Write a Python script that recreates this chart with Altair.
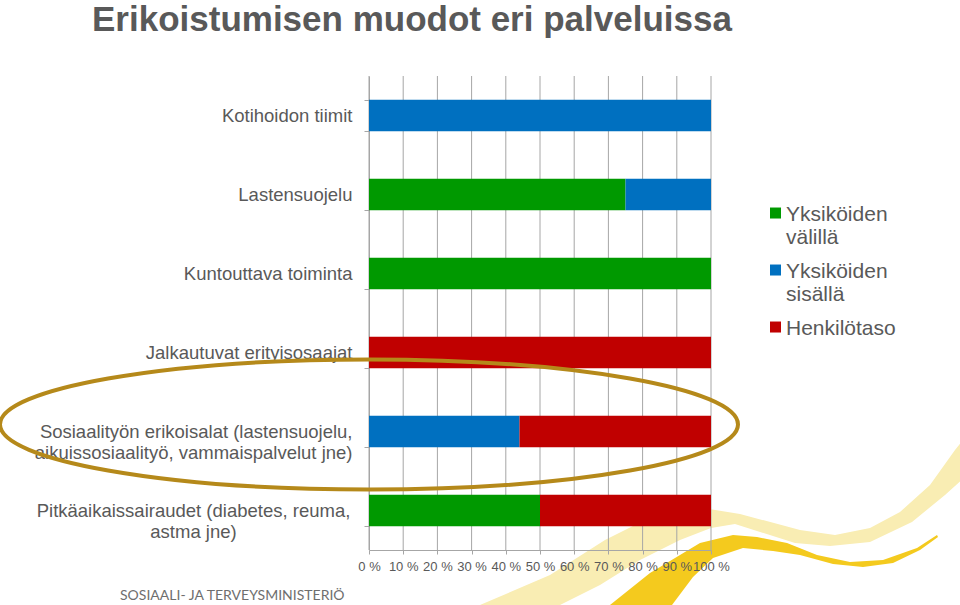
import altair as alt
import pandas as pd

# ---------------- data ----------------
categories = [
    "Kotihoidon tiimit",
    "Lastensuojelu",
    "Kuntouttava toiminta",
    "Jalkautuvat erityisosaajat",
    "Sosiaalityön erikoisalat (lastensuojelu,\naikuissosiaalityö, vammaispalvelut jne)",
    "Pitkäaikaissairaudet (diabetes, reuma,\nastma jne)",
]
series = ["Yksiköiden välillä", "Yksiköiden sisällä", "Henkilötaso"]
valilla = [0, 75, 100, 0, 0, 50]
sisalla = [100, 25, 0, 0, 44, 0]
henkilotaso = [0, 0, 0, 100, 56, 50]
x_ticks = [0, 10, 20, 30, 40, 50, 60, 70, 80, 90, 100]
colors = ["#009900", "#0070C0", "#C00000"]
title_text = "Erikoistumisen muodot eri palveluissa"
footer_text = "SOSIAALI- JA TERVEYSMINISTERIÖ"
highlight_category = categories[4]

rows = []
for s_idx, (name, vals) in enumerate(zip(series, [valilla, sisalla, henkilotaso])):
    for cat, v in zip(categories, vals):
        rows.append({"cat": cat, "series": name, "idx": s_idx, "value": v})
df = pd.DataFrame(rows)
ticks_df = pd.DataFrame({"value": x_ticks})

FONT = "Liberation Sans"
TXT = "#595959"
GRID = "#A6A6A6"

# plot area geometry (pixels)
PL, PT, PW, PH = 369, 76, 342, 474

SQUARE_UP = "M-1,-2.36H1V-0.36H-1Z"
E = 0.1762
K = 0.5523
ELLIPSE = (
    f"M-1,0C-1,{-K*E:.4f} {-K:.4f},{-E:.4f} 0,{-E:.4f}"
    f"C{K:.4f},{-E:.4f} 1,{-K*E:.4f} 1,0"
    f"C1,{K*E:.4f} {K:.4f},{E:.4f} 0,{E:.4f}"
    f"C{-K:.4f},{E:.4f} -1,{K*E:.4f} -1,0Z"
)

# decorative template swooshes (absolute page pixels, scale 1)
PALE = ("M480,605L550,575L605,540L655,515L703,508L740,514L800,530L835,535L870,528"
        "L900,512L930,485L955,450L975,425L975,468L945,495L912,522L870,542L830,546"
        "L795,543L735,524L711,528L680,540L640,560L600,585L560,605Z")
DARK = ("M610,605L650,573L700,543L733,535L757,537L787,543L817,555L850,562L883,560"
        "L917,548L937,535L938,537L920,550L893,563L863,567L833,564L800,555L773,551"
        "L743,548L713,558L693,577L672,605Z")

one = pd.DataFrame({"k": [0]})

x_axis = alt.Axis(
    values=x_ticks,
    labelExpr="datum.value + ' %'",
    title=None,
    grid=False,
    domainColor=GRID,
    tickColor=GRID,
    tickSize=4,
    labelFont=FONT,
    labelFontSize=13,
    labelColor=TXT,
    labelPadding=6,
    labelOverlap=False,
    labelFlush=False,
    zindex=1,
)
y_axis = alt.Axis(
    title=None,
    labelExpr="split(datum.label, '\\n')",
    labelFont=FONT,
    labelFontSize=18.5,
    labelColor=TXT,
    labelLineHeight=21,
    labelLimit=400,
    labelAlign={
        "condition": {"test": "indexof(datum.label, 'Pitk') == 0", "value": "center"},
        "value": "right",
    },
    labelPadding={
        "condition": {"test": "indexof(datum.label, 'Pitk') == 0", "value": 171},
        "value": 12,
    },
    tickBand="extent",
    tickSize=5,
    tickColor=GRID,
    domainColor=GRID,
    grid=False,
)
x_scale = alt.Scale(domain=[0, 100], nice=False)
y_scale = alt.Scale(domain=categories, paddingInner=0.6, paddingOuter=0.3)

pale = alt.Chart(one).mark_point(
    shape=PALE, size=4, filled=True, fill="#F9EDB3", opacity=1, strokeWidth=0
).encode(x=alt.value(-PL), y=alt.value(-PT))

dark = alt.Chart(one).mark_point(
    shape=DARK, size=4, filled=True, fill="#F4CA1E", opacity=1, strokeWidth=0
).encode(x=alt.value(-PL), y=alt.value(-PT))

gridlines = alt.Chart(ticks_df).mark_rule(color=GRID, strokeWidth=1).encode(
    x=alt.X("value:Q", scale=x_scale, axis=x_axis),
    y=alt.value(0),
    y2=alt.value(PH),
)

bars = alt.Chart(df).mark_bar().encode(
    x=alt.X("value:Q", stack="zero", scale=x_scale, axis=x_axis),
    y=alt.Y("cat:N", sort=categories, scale=y_scale, axis=y_axis),
    color=alt.Color(
        "series:N",
        scale=alt.Scale(domain=series, range=colors),
        legend=alt.Legend(
            title=None,
            orient="none",
            legendX=396,
            legendY=134,
            labelExpr="split(datum.label, ' ')",
            labelFont=FONT,
            labelFontSize=21,
            labelColor=TXT,
            labelBaseline="alphabetic",
            labelLimit=300,
            labelOffset=0,
            symbolType=SQUARE_UP,
            symbolSize=121,
            symbolStrokeWidth=0,
            rowPadding=12,
            padding=0,
        ),
    ),
    order=alt.Order("idx:Q"),
)

ell_df = pd.DataFrame({"cat": [highlight_category], "value": [0]})
ellipse = alt.Chart(ell_df).mark_point(
    shape=ELLIPSE,
    size=(2 * 369) ** 2,
    filled=False,
    stroke="#B5891A",
    strokeWidth=4,
    opacity=1,
    yOffset=-7,
).encode(
    x=alt.X("value:Q", scale=x_scale, axis=x_axis),
    y=alt.Y("cat:N", sort=categories, scale=y_scale, axis=y_axis),
)

footer = alt.Chart(one).mark_text(
    text=footer_text, font="Lato", fontSize=14, color="#6E6E6E",
    align="left", baseline="alphabetic",
).encode(x=alt.value(120 - PL), y=alt.value(600 - PT))

chart = alt.layer(pale, dark, gridlines, bars, ellipse, footer).properties(
    width=PW,
    height=PH,
    autosize=alt.AutoSizeParams(type="none"),
    padding={"left": PL, "top": PT, "right": 960 - PL - PW, "bottom": 605 - PT - PH},
    title=alt.TitleParams(
        title_text,
        anchor="start",
        frame="group",
        font=FONT,
        fontSize=35,
        fontWeight="bold",
        color=TXT,
        dx=-(PL - 92),
        offset=29,
    ),
    background="white",
).configure_view(stroke=None)

chart.save("out.html", embed_options={"renderer": "svg", "actions": False})
